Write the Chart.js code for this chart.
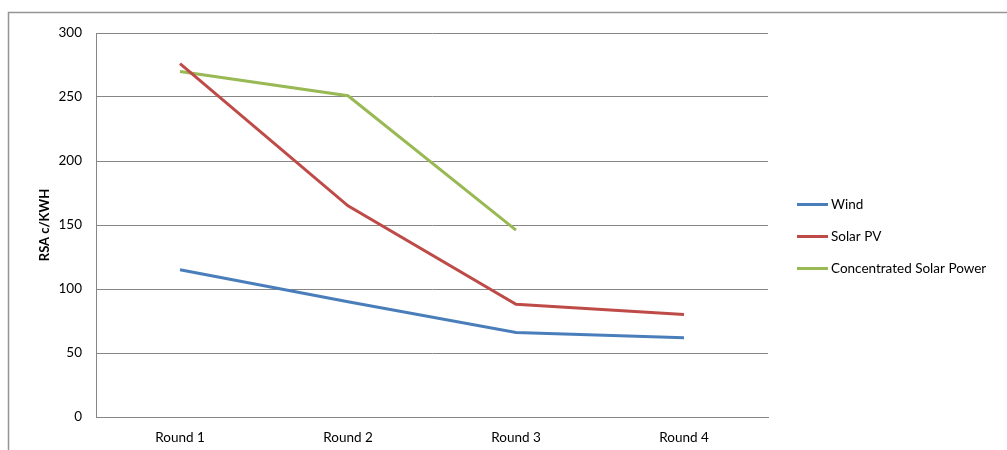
<!DOCTYPE html>
<html>
<head>
<meta charset="utf-8">
<script src="https://cdn.jsdelivr.net/npm/chart.js@4/dist/chart.umd.min.js"></script>
<style>
  html, body { margin: 0; padding: 0; background: #fff; }
  #wrap { width: 1007px; height: 450px; position: relative; }
</style>
</head>
<body>
<div id="wrap"><canvas id="c" width="1007" height="450"></canvas></div>
<script>
// Tariff by bidding round (RSA c/KWH)
const rounds = ['Round 1', 'Round 2', 'Round 3', 'Round 4'];
const wind = [115, 90, 66, 62];
const solarPV = [276, 165, 88, 80];
const csp = [270, 251, 146, null];
const seriesNames = ['Wind', 'Solar PV', 'Concentrated Solar Power'];
const seriesColors = ['#4A7EBB', '#BE4B48', '#98B954'];
const yTicks = [0, 50, 100, 150, 200, 250, 300];

const FONT = 'Lato, "Open Sans", sans-serif';

// Outer frame drawn round the chart object
const framePlugin = {
  id: 'frame',
  beforeDraw(chart) {
    const ctx = chart.ctx;
    ctx.save();
    ctx.strokeStyle = '#959595';
    ctx.lineWidth = 1.5;
    ctx.beginPath();
    ctx.moveTo(8.5, 450);
    ctx.lineTo(8.5, 12.5);
    ctx.lineTo(1007, 12.5);
    ctx.stroke();
    ctx.restore();
  }
};

// Legend on the right, one line sample per series
const sideLegend = {
  id: 'sideLegend',
  afterDraw(chart) {
    const ctx = chart.ctx;
    ctx.save();
    ctx.font = '13.5px ' + FONT;
    ctx.textBaseline = 'middle';
    ctx.textAlign = 'left';
    chart.data.datasets.forEach((ds, i) => {
      const y = 204.5 + i * 32;
      ctx.strokeStyle = ds.borderColor;
      ctx.lineWidth = 3;
      ctx.beginPath();
      ctx.moveTo(797, y);
      ctx.lineTo(828, y);
      ctx.stroke();
      ctx.fillStyle = '#000';
      ctx.fillText(ds.label, 831, y);
    });
    ctx.restore();
  }
};

const values = [wind, solarPV, csp];
const datasets = values.map((v, i) => ({
  label: seriesNames[i],
  data: v,
  borderColor: seriesColors[i],
  backgroundColor: seriesColors[i],
  borderWidth: 3,
  pointRadius: 0,
  tension: 0,
  fill: false,
  spanGaps: false
}));

new Chart(document.getElementById('c'), {
  type: 'line',
  data: { labels: rounds, datasets },
  plugins: [framePlugin, sideLegend],
  options: {
    responsive: false,
    animation: false,
    devicePixelRatio: 1,
    layout: { padding: { left: 0, top: 33, right: 239, bottom: 0 } },
    plugins: { legend: { display: false }, tooltip: { enabled: false } },
    scales: {
      x: {
        offset: true,
        grid: { display: false },
        border: { display: true, color: '#868686', width: 1 },
        ticks: { color: '#000', font: { family: FONT, size: 13.5 }, padding: 5, maxRotation: 0 },
        afterFit(s) { s.height = 33; }
      },
      y: {
        min: 0, max: 300,
        afterBuildTicks(s) { s.ticks = yTicks.map(v => ({ value: v })); },
        grid: { color: '#868686', lineWidth: 1, drawTicks: false },
        border: { display: true, color: '#868686', width: 1 },
        ticks: { color: '#000', font: { family: FONT, size: 13.5 }, padding: 14 },
        title: {
          display: true,
          text: 'RSA c/KWH',
          color: '#000',
          font: { family: FONT, size: 13, weight: 'bold' },
          padding: { top: 37, bottom: 0 }
        },
        afterFit(s) { s.width = 96; }
      }
    }
  }
});
</script>
</body>
</html>
